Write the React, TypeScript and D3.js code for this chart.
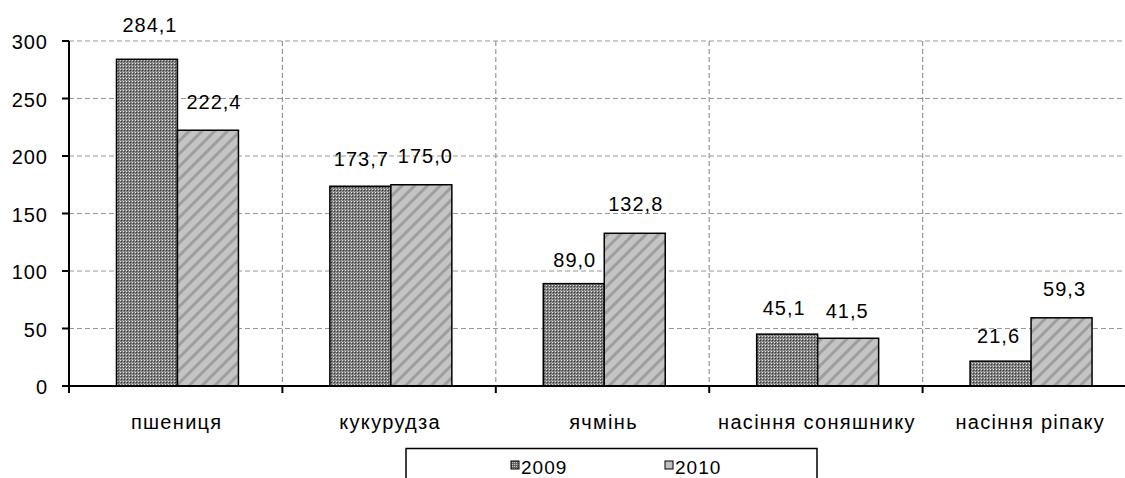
import React from "react";
import * as d3 from "d3";

const categories = ["пшениця", "кукурудза", "ячмінь", "насіння соняшнику", "насіння ріпаку"];
const series = ["2009", "2010"];
const values2009 = [284.1, 173.7, 89.0, 45.1, 21.6];
const values2010 = [222.4, 175.0, 132.8, 41.5, 59.3];
const yTicks = [0, 50, 100, 150, 200, 250, 300];
// manual label nudges (px above bar top / px right of bar centre), as in the original layout
const labelLift2009 = [27, 20, 17, 19, 18];
const labelLift2010 = [21, 22, 22, 20, 22];
const labelShift2009 = [3, 1, 1, -3, -2];
const labelShift2010 = [6, 4, 1, -1, 3];

const W = 1125;
const H = 478;
const left = 69;
const right = 1136;
const top = 41;
const bottom = 386;
const font = "'Liberation Sans', Arial, sans-serif";

export default function App() {
  const x = d3.scaleBand<string>().domain(categories).range([left, right]).padding(0);
  const y = d3.scaleLinear().domain([0, 300]).range([bottom, top]);
  const bw = x.bandwidth();
  const inner = d3.scaleBand<string>().domain(series).range([bw * 0.2225, bw * 0.794]).padding(0);
  const data = [values2009, values2010];
  const lifts = [labelLift2009, labelLift2010];
  const shifts = [labelShift2009, labelShift2010];
  const fills = ["url(#chk)", "url(#str)"];
  const fmt = (v: number) => v.toFixed(1).replace(".", ",");

  return (
    <svg width={W} height={H} style={{ position: "absolute", left: 0, top: 0 }} fontFamily={font}>
      <defs>
        <pattern id="chk" width="3" height="3" patternUnits="userSpaceOnUse">
          <rect width="3" height="3" fill="#7a7a7a" />
          <rect x="0" y="0" width="1" height="1" fill="#e8e8e8" />
          <rect x="1" y="1" width="1" height="1" fill="#3a3a3a" />
          <rect x="2" y="2" width="1" height="1" fill="#a8a8a8" />
        </pattern>
        <pattern id="str" width="9" height="9" patternUnits="userSpaceOnUse" patternTransform="rotate(45)">
          <rect width="9" height="9" fill="#c4c4c4" />
          <rect x="0" y="0" width="3" height="9" fill="#9e9e9e" />
        </pattern>
        <pattern id="chkL" width="2" height="2" patternUnits="userSpaceOnUse">
          <rect width="2" height="2" fill="#666" />
          <rect width="1" height="1" fill="#ccc" />
        </pattern>
        <clipPath id="clip">
          <rect x={0} y={0} width={W} height={H} />
        </clipPath>
      </defs>
      <rect width={W} height={H} fill="#fff" />
      <g clipPath="url(#clip)">
        {/* horizontal grid */}
        {yTicks.filter((t) => t > 0).map((t) => (
          <line key={t} x1={left} x2={right} y1={y(t)} y2={y(t)} stroke="#969696" strokeWidth={1.2} strokeDasharray="5,3" />
        ))}
        {/* vertical grid */}
        {categories.slice(1).map((c) => (
          <line key={c} x1={x(c)!} x2={x(c)!} y1={top} y2={bottom} stroke="#969696" strokeWidth={1.2} strokeDasharray="5,3" />
        ))}
        {/* bars */}
        {categories.map((c, i) =>
          series.map((s, j) => {
            const v = data[j][i];
            const bx = x(c)! + inner(s)!;
            return (
              <rect key={c + s} x={bx} y={y(v)} width={inner.bandwidth()} height={bottom - y(v)} fill={fills[j]} stroke="#000" strokeWidth={1.5} />
            );
          })
        )}
        {/* labels */}
        {categories.map((c, i) =>
          series.map((s, j) => {
            const v = data[j][i];
            const cx = x(c)! + inner(s)! + inner.bandwidth() / 2 + shifts[j][i];
            return (
              <text key={"l" + c + s} x={cx} y={y(v) - lifts[j][i]} textAnchor="middle" fontSize={20} letterSpacing={1} fill="#000">
                {fmt(v)}
              </text>
            );
          })
        )}
        {/* axes */}
        <line x1={left} x2={left} y1={top} y2={bottom} stroke="#000" strokeWidth={2} />
        <line x1={left - 7} x2={right} y1={bottom} y2={bottom} stroke="#000" strokeWidth={2} />
        {yTicks.map((t) => (
          <g key={"yt" + t}>
            <line x1={left - 7} x2={left} y1={y(t)} y2={y(t)} stroke="#000" strokeWidth={2} />
            <text x={48} y={y(t) + 8} textAnchor="end" fontSize={20} letterSpacing={1}>{t}</text>
          </g>
        ))}
        {categories.map((c) => (
          <line key={"xt" + c} x1={x(c)!} x2={x(c)!} y1={bottom} y2={bottom + 7} stroke="#000" strokeWidth={2} />
        ))}
        {categories.map((c) => (
          <text key={"xl" + c} x={x(c)! + bw / 2 + 1} y={429} textAnchor="middle" fontSize={20} letterSpacing={1.3}>
            {c}
          </text>
        ))}
        {/* legend */}
        <rect x={406} y={448.5} width={411} height={40} fill="#fff" stroke="#000" strokeWidth={1.5} />
        {series.map((s, j) => {
          const lx = j === 0 ? 511 : 665;
          return (
            <g key={"lg" + s}>
              <rect x={lx} y={461} width={8} height={8} fill={j === 0 ? "url(#chkL)" : "#c0c0c0"} stroke="#000" strokeWidth={1} />
              <text x={lx + 10} y={474} fontSize={19} letterSpacing={1}>{s}</text>
            </g>
          );
        })}
      </g>
    </svg>
  );
}
